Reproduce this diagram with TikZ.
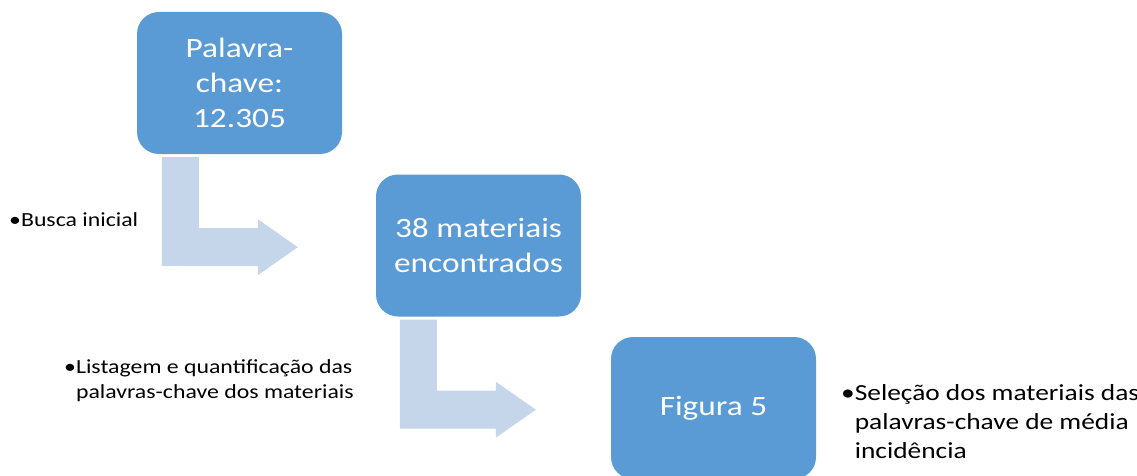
\documentclass[tikz,border=0pt]{standalone}
\usepackage{fontspec}
\setmainfont[FakeStretch=1.19]{Carlito}
\usepackage{tikz}
\usetikzlibrary{calc}
\definecolor{boxcolor}{RGB}{91,155,213}
\definecolor{flowcolor}{RGB}{197,213,234}

\begin{document}
\begin{tikzpicture}[
    x=1pt, y=-1pt,
    stage/.style={fill=boxcolor, text=white, minimum width=205, minimum height=142, rounded corners=22pt, align=center, font=\fontsize{28}{35}\selectfont},
    flow/.style={fill=flowcolor},
    note/.style={anchor=west, inner sep=0pt, font=\fontsize{20}{25}\selectfont},
    bignote/.style={anchor=west, inner sep=0pt, font=\fontsize{23}{29}\selectfont}
]
    \useasboundingbox (0,0) rectangle (1137,476);

    % Boxes
    \node[stage] (keyword) at (239.5,83) {Palavra-\\chave:\\12.305};
    \node[stage] (found) at (478.5,245.5) {38 materiais\\encontrados};
    \node[stage] (figure) at (713.5,408) {Figura 5};

    % Bent arrows
    \fill[flow] ($(keyword.south west)+(25,3)$) -- ++(37,0) -- ++(0,71) -- ++(59,0) -- ++(0,-9)
        -- ++(40,28) -- ++(-40,28) -- ++(0,-9) -- ++(-96,0) -- cycle;
    \fill[flow] ($(found.south west)+(24,3)$) -- ++(37,0) -- ++(0,71) -- ++(59,0) -- ++(0,-9)
        -- ++(40,28) -- ++(-40,28) -- ++(0,-9) -- ++(-96,0) -- cycle;

    % Notes
    \node[note] (search) at (9,220) {•Busca inicial};
    \node[note] (listing) at (64,380.5) {\begin{tabular}{@{}l@{}l@{}}•&Listagem e quantificação das\\&palavras-chave dos materiais\end{tabular}};
    \node[bignote] (selection) at (841,424) {\begin{tabular}{@{}l@{}l@{}}•&Seleção dos materiais das\\&palavras-chave de média\\&incidência\end{tabular}};
\end{tikzpicture}
\end{document}
